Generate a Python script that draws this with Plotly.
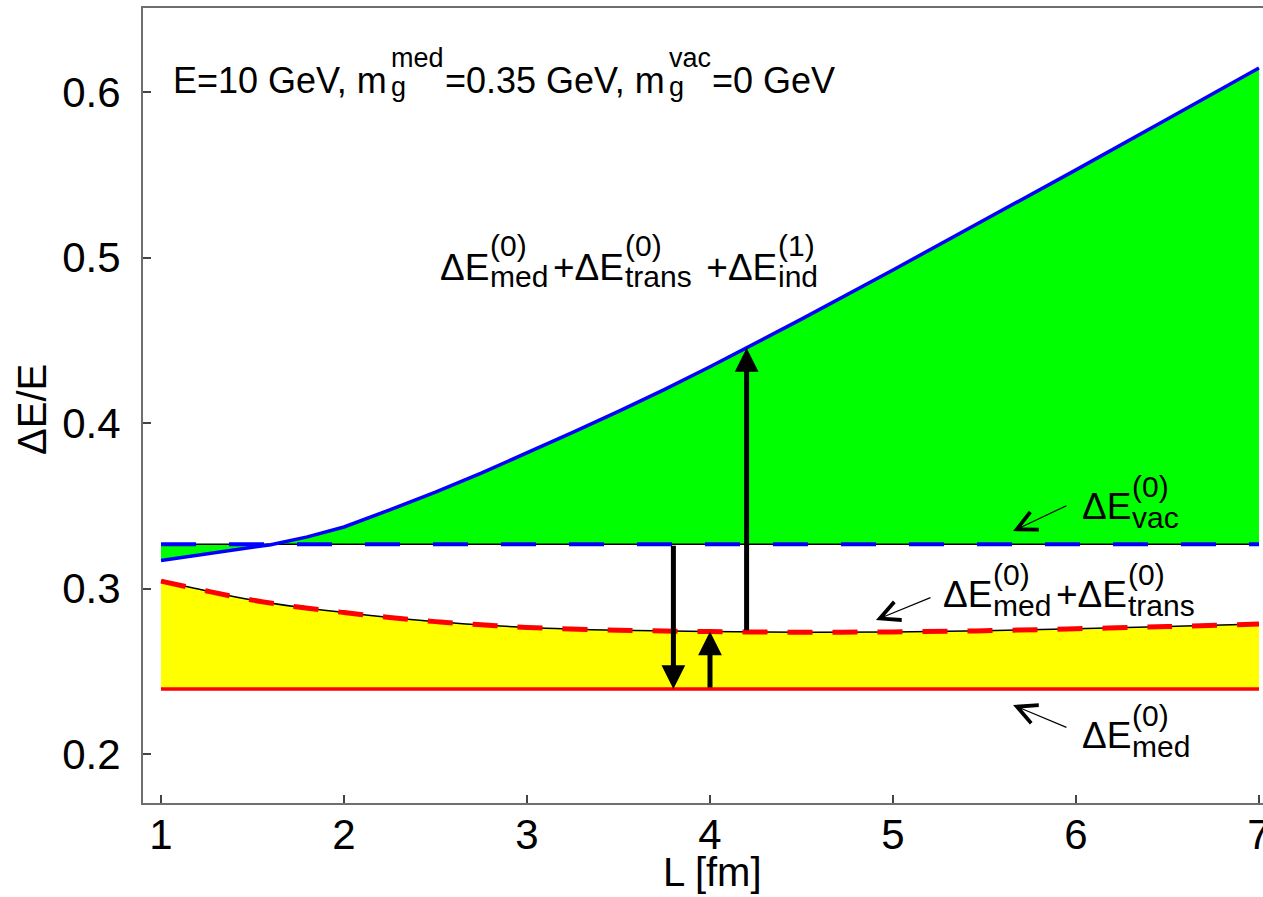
import numpy as np
import plotly.graph_objects as go

# Path length L [fm] and fractional energy loss dE/E for E = 10 GeV
L_total = [1.0, 1.25, 1.5, 1.6, 1.8, 2.0, 2.25, 2.5, 2.75, 3.0, 3.25, 3.5, 3.75,
           4.0, 4.25, 4.5, 5.0, 5.5, 6.0, 6.5, 7.0]
dE_total = [0.317, 0.3208, 0.3248, 0.3265, 0.3312, 0.3372, 0.3475, 0.3582, 0.3697,
            0.3818, 0.3943, 0.4071, 0.4202, 0.4340, 0.4482, 0.4628, 0.4925, 0.5225,
            0.5530, 0.5837, 0.6145]

L_trans = [1.0, 1.25, 1.5, 1.75, 2.0, 2.25, 2.5, 2.75, 3.0, 3.5, 4.0, 4.5, 5.0,
           5.5, 6.0, 6.5, 7.0]
dE_trans = [0.3045, 0.2985, 0.2930, 0.2888, 0.2855, 0.2825, 0.2800, 0.2781,
            0.2765, 0.2748, 0.2740, 0.2736, 0.2738, 0.2745, 0.2757, 0.2770, 0.2785]

L_flat = [1.0, 7.0]
dE_vac = [0.3268, 0.3268]
dE_med = [0.2393, 0.2393]

x_ticks = [1, 2, 3, 4, 5, 6, 7]
y_ticks = [0.2, 0.3, 0.4, 0.5, 0.6]

# L positions of the three vertical arrows
L_arrow_down, L_arrow_up, L_arrow_ind = 3.8, 4.0, 4.2

FONT = "Liberation Sans, Arial, Helvetica, sans-serif"

fig = go.Figure()

# green band between the vacuum level and the full result
fig.add_trace(go.Scatter(x=L_flat, y=dE_vac, mode="lines", line=dict(width=0),
                         showlegend=False, hoverinfo="skip"))
fig.add_trace(go.Scatter(x=L_total, y=dE_total, mode="lines", line=dict(width=0),
                         fill="tonexty", fillcolor="#00ff00", showlegend=False,
                         hoverinfo="skip"))
# yellow band between the medium level and medium + transition
fig.add_trace(go.Scatter(x=L_flat, y=dE_med, mode="lines", line=dict(width=0),
                         showlegend=False, hoverinfo="skip"))
fig.add_trace(go.Scatter(x=L_trans, y=dE_trans, mode="lines", line=dict(width=0),
                         fill="tonexty", fillcolor="#ffff00", showlegend=False,
                         hoverinfo="skip"))

# medium-only level
fig.add_trace(go.Scatter(x=L_flat, y=dE_med, mode="lines",
                         line=dict(color="#ff0000", width=3.5), showlegend=False))
# medium + transition: thin black line under red dashes
fig.add_trace(go.Scatter(x=L_trans, y=dE_trans, mode="lines",
                         line=dict(color="#000000", width=1.5, shape="spline"),
                         showlegend=False))
fig.add_trace(go.Scatter(x=L_trans, y=dE_trans, mode="lines",
                         line=dict(color="#ff0000", width=5, dash="25px,20px",
                                   shape="spline"),
                         showlegend=False))
# vacuum level: thin black line under blue dashes
fig.add_trace(go.Scatter(x=L_flat, y=dE_vac, mode="lines",
                         line=dict(color="#000000", width=1.5), showlegend=False))
fig.add_trace(go.Scatter(x=L_flat, y=dE_vac, mode="lines",
                         line=dict(color="#0000ff", width=4, dash="35px,33px"),
                         showlegend=False))
# full result
fig.add_trace(go.Scatter(x=L_total, y=dE_total, mode="lines",
                         line=dict(color="#0000ff", width=3.5), showlegend=False))

annotations = []

# thick vertical arrows between the levels
vac_at = lambda L: float(np.interp(L, L_flat, dE_vac))
med_at = lambda L: float(np.interp(L, L_flat, dE_med))
trans_at = lambda L: float(np.interp(L, L_trans, dE_trans))
total_at = lambda L: float(np.interp(L, L_total, dE_total))

for L0, y_from, y_to in [
    (L_arrow_down, vac_at(L_arrow_down), med_at(L_arrow_down)),
    (L_arrow_up, med_at(L_arrow_up), trans_at(L_arrow_up)),
    (L_arrow_ind, trans_at(L_arrow_ind), total_at(L_arrow_ind)),
]:
    annotations.append(dict(x=L0, y=y_to, ax=L0, ay=y_from, xref="x", yref="y",
                            axref="x", ayref="y", text="", showarrow=True,
                            arrowhead=2, arrowsize=0.95, arrowwidth=5,
                            arrowcolor="#000000", standoff=0, startstandoff=0))

# thin pointer arrows next to the curve labels
for tip, tail in [((5.656, 0.3347), (5.956, 0.3505)),
                  ((4.907, 0.2810), (5.213, 0.2949)),
                  ((5.656, 0.2296), (5.956, 0.2157))]:
    annotations.append(dict(x=tip[0], y=tip[1], ax=tail[0], ay=tail[1],
                            xref="x", yref="y", axref="x", ayref="y", text="",
                            showarrow=True, arrowhead=5, arrowsize=3.2,
                            arrowwidth=1.2, arrowcolor="#000000", standoff=0))

# Arial advance widths (em) used to lay out labels with stacked indices
W = {"Δ": 0.668, "E": 0.667, "+": 0.584, "(": 0.333, ")": 0.333, "0": 0.556,
     "1": 0.556, "3": 0.556, "5": 0.556, ".": 0.278, "=": 0.584, " ": 0.278,
     "G": 0.778, "V": 0.667, ",": 0.278, "m": 0.833, "e": 0.556, "d": 0.556,
     "t": 0.278, "r": 0.333, "a": 0.556, "n": 0.556, "s": 0.5, "i": 0.222,
     "v": 0.5, "c": 0.5, "g": 0.556}


def text_width(s, size):
    return size * sum(W.get(c, 0.556) for c in s)


def stacked_label(x, y, parts, big, small, up, down, gap=1.0):
    out = []
    off = 0.0
    base = dict(x=x, y=y, xref="x", yref="y", showarrow=False, xanchor="left",
                yanchor="middle", borderpad=0, borderwidth=0)
    for p in parts:
        if isinstance(p, str):
            out.append(dict(base, text=p, xshift=off,
                            font=dict(family=FONT, size=big, color="#000")))
            off += text_width(p, big)
        else:
            sup, sub = p
            out.append(dict(base, text=sup, xshift=off + 1, yshift=up,
                            font=dict(family=FONT, size=small, color="#000")))
            out.append(dict(base, text=sub, xshift=off + 1, yshift=-down,
                            font=dict(family=FONT, size=small, color="#000")))
            off += max(text_width(sup, small), text_width(sub, small)) + gap
    return out


annotations += stacked_label(1.066, 0.607,
                             ["E=10 GeV, m", ("med", "g"), "=0.35 GeV, m",
                              ("vac", "g"), "=0 GeV"],
                             big=36, small=27, up=22, down=7, gap=2)
annotations += stacked_label(2.525, 0.4937,
                             ["ΔE", ("(0)", "med"), "+ΔE", ("(0)", "trans"),
                              " +ΔE", ("(1)", "ind")],
                             big=37, small=30, up=22, down=9, gap=5)
annotations += stacked_label(6.033, 0.3493, ["ΔE", ("(0)", "vac")],
                             big=37, small=30, up=20, down=11, gap=5)
annotations += stacked_label(5.273, 0.2961,
                             ["ΔE", ("(0)", "med"), "+ΔE", ("(0)", "trans")],
                             big=37, small=30, up=20, down=11, gap=5)
annotations += stacked_label(6.033, 0.2109, ["ΔE", ("(0)", "med")],
                             big=37, small=30, up=20, down=11, gap=5)

# axis titles
annotations.append(dict(x=4.011, y=-0.0868, xref="x", yref="paper", text="L [fm]",
                        showarrow=False, xanchor="center", yanchor="middle",
                        font=dict(family=FONT, size=40, color="#000")))
annotations.append(dict(x=-0.0991, y=0.4079, xref="paper", yref="y", text="ΔE/E",
                        showarrow=False, xanchor="center", yanchor="middle",
                        textangle=-90, font=dict(family=FONT, size=40, color="#000")))

axis_common = dict(showgrid=False, zeroline=False, showline=True, mirror=True,
                   linecolor="#6e6e6e", linewidth=2, ticks="inside", ticklen=8,
                   tickwidth=1.5, tickcolor="#444444", automargin=False,
                   ticklabeloverflow="allow",
                   tickfont=dict(family=FONT, size=42, color="#000"))

fig.update_layout(
    width=1263, height=897,
    margin=dict(l=143, r=0, t=8, b=94),
    paper_bgcolor="#ffffff", plot_bgcolor="#ffffff",
    font=dict(family=FONT, color="#000"),
    xaxis=dict(axis_common, range=[0.9016, 7.0219], tickvals=x_ticks,
               ticktext=[str(v) for v in x_ticks], ticklabelstandoff=-6),
    yaxis=dict(axis_common, range=[0.1704, 0.6508], tickvals=y_ticks,
               ticktext=["%.1f" % v for v in y_ticks], ticklabelstandoff=12),
    annotations=annotations,
    showlegend=False,
)

fig.write_html("out.html")
